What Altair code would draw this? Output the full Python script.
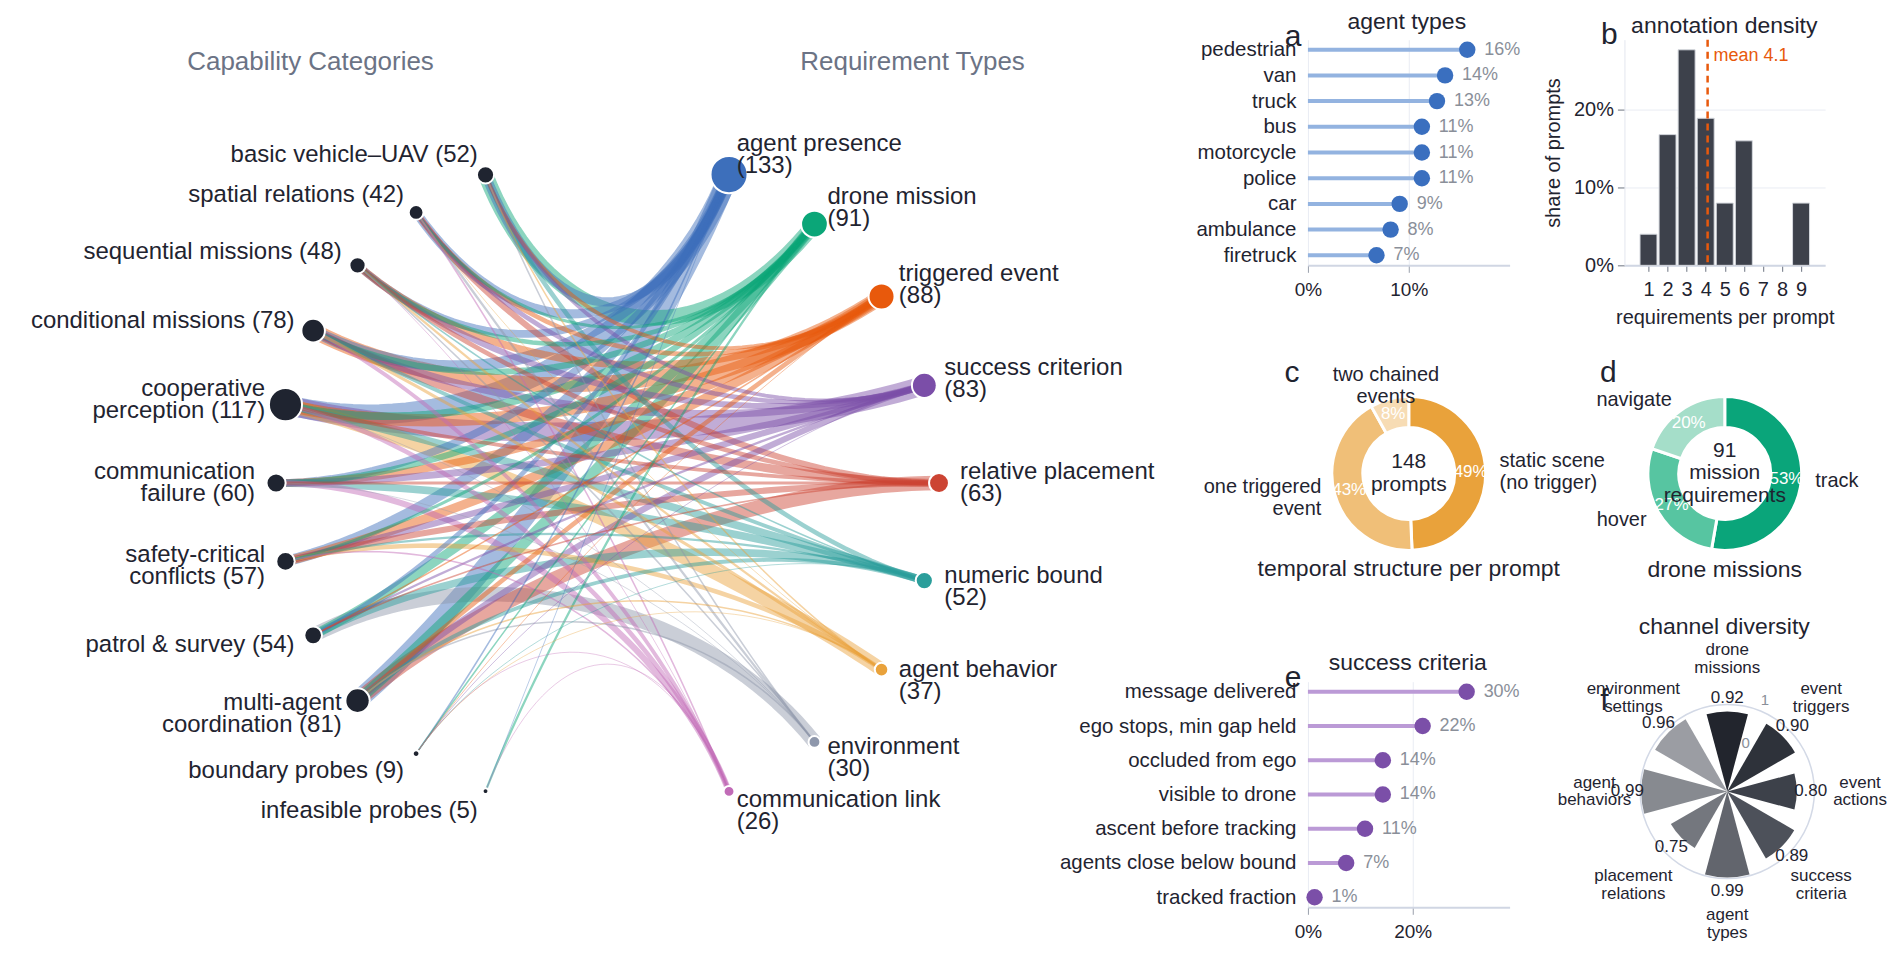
import math
import numpy as np
import pandas as pd
import altair as alt

FONT = "Liberation Sans"
DARK = "#1f2430"
MUTED = "#8a8f99"
HEADER = "#6b7385"
ORANGE = "#e8590c"

# ---------------- data ----------------
CAPABILITIES = ["basic vehicle–UAV", "spatial relations", "sequential missions", "conditional missions",
                "cooperative\nperception", "communication\nfailure", "safety-critical\nconflicts",
                "patrol & survey", "multi-agent\ncoordination", "boundary probes", "infeasible probes"]
CAP_COUNTS = [52, 42, 48, 78, 117, 60, 57, 54, 81, 9, 5]

REQUIREMENTS = ["agent presence", "drone mission", "triggered event", "success criterion",
                "relative placement", "numeric bound", "agent behavior", "environment", "communication link"]
REQ_COUNTS = [133, 91, 88, 83, 63, 52, 37, 30, 26]
REQ_COLORS = ["#3d6fbb", "#0ba678", "#e8590c", "#7b4ea8", "#cc4433", "#2b9e9b", "#e9a23b", "#8e97ab", "#c16bb7"]

# links: rows = capabilities, columns = requirement types
LINKS = [
    [12, 20, 5, 5, 0, 6, 2, 2, 0],
    [12, 4, 6, 6, 8, 0, 1, 3, 2],
    [10, 6, 10, 8, 6, 2, 3, 2, 1],
    [15, 8, 20, 10, 11, 5, 4, 0, 5],
    [26, 10, 16, 25, 5, 10, 18, 1, 6],
    [10, 8, 10, 9, 4, 10, 0, 1, 8],
    [14, 4, 12, 8, 8, 3, 6, 0, 2],
    [6, 12, 2, 3, 2, 10, 0, 19, 0],
    [25, 14, 6, 8, 19, 5, 2, 2, 0],
    [2, 2, 1, 1, 0, 1, 1, 0, 1],
    [1, 3, 0, 0, 0, 0, 0, 0, 1],
]

AGENT_TYPES = ["pedestrian", "van", "truck", "bus", "motorcycle", "police", "car", "ambulance", "firetruck"]
AGENT_SHARE = [0.158, 0.136, 0.128, 0.113, 0.113, 0.113, 0.091, 0.082, 0.068]

REQS_PER_PROMPT = [1, 2, 3, 4, 5, 6, 7, 8, 9]
PROMPT_SHARE = [0.04, 0.168, 0.277, 0.189, 0.08, 0.16, 0.0, 0.0, 0.08]
MEAN_REQS = 4.1

TEMPORAL = ["static scene\n(no trigger)", "one triggered\nevent", "two chained\nevents"]
TEMPORAL_N = [73, 63, 12]
TEMPORAL_COLORS = ["#e9a23b", "#f0bf78", "#f7dcb4"]

MISSIONS = ["track", "hover", "navigate"]
MISSIONS_N = [48, 25, 18]
MISSION_COLORS = ["#0aa57a", "#57c5a1", "#a5dec9"]

SUCCESS = ["message delivered", "ego stops, min gap held", "occluded from ego", "visible to drone",
           "ascent before tracking", "agents close below bound", "tracked fraction"]
SUCCESS_SHARE = [0.303, 0.219, 0.143, 0.143, 0.109, 0.073, 0.0127]

CHANNELS = ["drone\nmissions", "event\ntriggers", "event\nactions", "success\ncriteria", "agent\ntypes",
            "placement\nrelations", "agent\nbehaviors", "environment\nsettings"]
DIVERSITY = [0.92, 0.90, 0.80, 0.89, 0.99, 0.75, 0.99, 0.96]
CHANNEL_COLORS = ["#22252d", "#2e323a", "#3d414a", "#4d515a", "#62656d", "#74777e", "#878a90", "#9b9da3"]

# ---------------- layout constants ----------------
COLW1, COLW2 = 202, 201
ROW_H = 226
MID_H = 317
W0 = 1182
PX0, PY0 = 13.0, 39.0          # page position of the first row's top-left corner
LH = 22                        # line height of the node labels

# ---------------- bipartite layout ----------------
CX, CY, RAD = 608.5, 483.0, 332.0
HUB = np.array([CX, CY])
PULL = 0.55
GAP = 21.0
L_SPAN, R_SPAN = 68.4, 68.5


def lift(text):
    # vertical correction so that a multi-line label is centred on its anchor
    return (text.count("\n")) * LH / 2.0


left_rows = []
lstep = 2 * L_SPAN / (len(CAPABILITIES) - 1)
for i, (nm, c) in enumerate(zip(CAPABILITIES, CAP_COUNTS)):
    a = math.radians(-L_SPAN + lstep * i)
    x, y = CX - RAD * math.cos(a), CY + RAD * math.sin(a)
    lab = f"{nm} ({c})"
    left_rows.append(dict(name=nm, count=c, x=x, y=y,
                          lx=x - GAP * math.cos(a), ly=y + GAP * math.sin(a) - lift(lab),
                          label=lab))
right_rows = []
rstep = 2 * R_SPAN / (len(REQUIREMENTS) - 1)
for j, (nm, c) in enumerate(zip(REQUIREMENTS, REQ_COUNTS)):
    a = math.radians(-R_SPAN + rstep * j)
    x, y = CX + RAD * math.cos(a), CY + RAD * math.sin(a)
    lab = f"{nm}\n({c})"
    right_rows.append(dict(name=nm, count=c, x=x, y=y,
                           lx=x + GAP * math.cos(a), ly=y + GAP * math.sin(a) - lift(lab),
                           label=lab))
left_df = pd.DataFrame(left_rows)
right_df = pd.DataFrame(right_rows)

T = np.linspace(0, 1, 41)
links = sorted([(w, i, j) for i, row in enumerate(LINKS) for j, w in enumerate(row) if w > 0],
               key=lambda r: -r[0])
edge_rows = []
for rank, (w, i, j) in enumerate(links):
    p0 = np.array([left_rows[i]["x"], left_rows[i]["y"]])
    p3 = np.array([right_rows[j]["x"], right_rows[j]["y"]])
    p1 = p0 + PULL * (HUB - p0)
    p2 = p3 + PULL * (HUB - p3)
    for t in T:
        b = (1 - t) ** 3 * p0 + 3 * (1 - t) ** 2 * t * p1 + 3 * (1 - t) * t ** 2 * p2 + t ** 3 * p3
        edge_rows.append(dict(eid=f"e{rank:03d}", t=float(t), x=float(b[0]), y=float(b[1]),
                              target=REQUIREMENTS[j], w=w))
edge_df = pd.DataFrame(edge_rows)

xs = alt.Scale(domain=[PX0, PX0 + W0], range=[0, W0], nice=False, zero=False)
ys = alt.Scale(domain=[PY0, PY0 + ROW_H], range=[0, ROW_H], nice=False, zero=False)
req_color = alt.Scale(domain=REQUIREMENTS, range=REQ_COLORS)

edges = alt.Chart(edge_df).mark_line(opacity=0.47, strokeCap="butt").encode(
    x=alt.X("x:Q", scale=xs, axis=None),
    y=alt.Y("y:Q", scale=ys, axis=None),
    detail="eid:N",
    order="t:Q",
    color=alt.Color("target:N", scale=req_color, legend=None),
    strokeWidth=alt.StrokeWidth("w:Q", scale=alt.Scale(domain=[0, 26], range=[0, 20]), legend=None),
)
node_size = "pow(4.5 + 0.245 * datum.count, 2)"
lnodes = alt.Chart(left_df).transform_calculate(sz=node_size).mark_circle(
    fill=DARK, opacity=1, stroke="white", strokeWidth=2).encode(
    x=alt.X("x:Q", scale=xs, axis=None), y=alt.Y("y:Q", scale=ys, axis=None),
    size=alt.Size("sz:Q", scale=None))
rnodes = alt.Chart(right_df).transform_calculate(sz=node_size).mark_circle(
    opacity=1, stroke="white", strokeWidth=2).encode(
    x=alt.X("x:Q", scale=xs, axis=None), y=alt.Y("y:Q", scale=ys, axis=None),
    size=alt.Size("sz:Q", scale=None),
    color=alt.Color("name:N", scale=req_color, legend=None))
llab = alt.Chart(left_df).mark_text(align="right", baseline="middle", fontSize=24, lineBreak="\n",
                                    lineHeight=LH, color=DARK).encode(
    x=alt.X("lx:Q", scale=xs, axis=None), y=alt.Y("ly:Q", scale=ys, axis=None), text="label:N")
rlab = alt.Chart(right_df).mark_text(align="left", baseline="middle", fontSize=24, lineBreak="\n",
                                     lineHeight=LH, color=DARK).encode(
    x=alt.X("lx:Q", scale=xs, axis=None), y=alt.Y("ly:Q", scale=ys, axis=None), text="label:N")
head_l = alt.Chart(pd.DataFrame({"h": ["Capability Categories"]})).mark_text(
    fontSize=26, color=HEADER, baseline="middle").encode(text="h:N", x=alt.value(311 - PX0), y=alt.value(61 - PY0))
head_r = alt.Chart(pd.DataFrame({"h": ["Requirement Types"]})).mark_text(
    fontSize=26, color=HEADER, baseline="middle").encode(text="h:N", x=alt.value(914 - PX0), y=alt.value(61 - PY0))
# invisible anchor that fixes the top edge of the whole figure
anchor = alt.Chart(pd.DataFrame({"z": [0]})).mark_rect(opacity=0).encode(
    x=alt.value(0), x2=alt.value(1), y=alt.value(-31), y2=alt.value(-30))

bip = alt.layer(edges, lnodes, rnodes, llab, rlab, head_l, head_r, anchor).properties(width=W0, height=ROW_H)


# ---------------- helpers ----------------
def txt(text, x, y, size, color=DARK, align="center", baseline="alphabetic"):
    return alt.Chart(pd.DataFrame({"t": [text]})).mark_text(
        fontSize=size, color=color, align=align, baseline=baseline, lineBreak="\n").encode(
        text="t:N", x=alt.value(x), y=alt.value(y))


def lollipop(cats, vals, dmax, ticks, line_col, dot_col, pad):
    df = pd.DataFrame({"cat": cats, "v": vals})
    y = alt.Y("cat:N", sort=cats, scale=alt.Scale(type="point", padding=pad),
              axis=alt.Axis(title=None, labelFontSize=20.5, labelColor=DARK, ticks=False, domain=False,
                            labelPadding=12, labelLimit=400))
    x = alt.X("v:Q", scale=alt.Scale(domain=[0, dmax], nice=False, zero=True),
              axis=alt.Axis(title=None, format="%", values=ticks, labelFontSize=19, labelColor=DARK,
                            tickColor="#9aa0ac", tickSize=7, labelPadding=8, domainColor="#d0d6e3",
                            domainWidth=2, gridColor="#e9ecf3", labelFlush=False))
    base = alt.Chart(df).transform_calculate(zero="0")
    stem = base.mark_rule(color=line_col, strokeWidth=4).encode(y=y, x=x, x2="zero:Q")
    dot = base.mark_circle(color=dot_col, size=270, opacity=1).encode(y=y, x=x)
    lab = base.mark_text(align="left", dx=17, fontSize=18, color=MUTED, baseline="middle").encode(
        y=y, x=x, text=alt.Text("v:Q", format=".0%"))
    return [stem, dot, lab]


def donut(cats, counts, colors, center, title, letter, w, h, title_y):
    df = pd.DataFrame({"cat": cats, "n": counts})
    base = (alt.Chart(df)
            .transform_window(idx="row_number()")
            .transform_joinaggregate(total="sum(n)")
            .transform_window(cum="sum(n)", sort=[alt.SortField("idx")], frame=[None, 0])
            .transform_calculate(pct="datum.n / datum.total",
                                 mid="(datum.cum - datum.n / 2) / datum.total")
            .transform_calculate(side="datum.mid > 0.06 && datum.mid < 0.45 ? 'L' : "
                                      "(datum.mid > 0.55 && datum.mid < 0.94 ? 'R' : 'C')"))
    theta = alt.Theta("n:Q", stack=True)
    order = alt.Order("idx:Q")
    arc = base.mark_arc(innerRadius=46, outerRadius=77, stroke="white", strokeWidth=3).encode(
        theta=theta, order=order,
        color=alt.Color("cat:N", scale=alt.Scale(domain=cats, range=colors), legend=None))
    pct = base.mark_text(radius=62, fontSize=17, color="white").encode(
        theta=theta, order=order, detail="cat:N", text=alt.Text("pct:Q", format=".0%"))
    layers = [arc, pct]
    olh = 22
    lift_lab = max(c.count("\n") for c in cats) * olh / 2.0
    for side, al in [("L", "left"), ("R", "right"), ("C", "center")]:
        layers.append(base.mark_text(radius=91, fontSize=20, lineBreak="\n", lineHeight=olh, align=al,
                                     baseline="middle", color=DARK, dy=-lift_lab).encode(
            theta=theta, order=order, detail="cat:N",
            text=alt.condition(f"datum.side == '{side}'", "cat:N", alt.value(""))))
    clh = 23
    ctr = alt.Chart(pd.DataFrame({"t": [center]})).mark_text(
        fontSize=21, lineBreak="\n", lineHeight=clh, color=DARK, baseline="middle").encode(
        text="t:N", x=alt.value(w / 2), y=alt.value(h / 2 - center.count("\n") * clh / 2.0))
    layers += [ctr, txt(title, w / 2, title_y, 23), txt(letter, -16, 67, 30)]
    return alt.layer(*layers).properties(width=w, height=h)


# ---------------- panel a ----------------
panel_a = alt.layer(*lollipop(AGENT_TYPES, AGENT_SHARE, 0.2, [0, 0.1], "#93b3e0", "#3a6fbf", 0.39),
                    txt("agent types", 99, -18, 23, baseline="middle"), txt("a", -15, 6, 30)
                    ).properties(width=COLW1, height=ROW_H)

# ---------------- panel b ----------------
b_df = pd.DataFrame({"k": REQS_PER_PROMPT, "share": PROMPT_SHARE})
bxs = alt.Scale(domain=[0, 10], nice=False, zero=False)
bx_axis = alt.Axis(values=REQS_PER_PROMPT, title="requirements per prompt", labelFontSize=20,
                   labelColor=DARK, titleFontSize=20, titleFontWeight="normal", titleColor=DARK,
                   titlePadding=8, tickColor="#6b7280", tickSize=6, labelPadding=8,
                   domainColor="#d0d6e3", domainWidth=2, grid=False, labelFlush=False,
                   labelOverlap=False, labelSeparation=0, format="d")
by = alt.Y("share:Q", scale=alt.Scale(domain=[0, 0.29], nice=False),
           axis=alt.Axis(values=[0, 0.1, 0.2], format="%", title="share of prompts", labelFontSize=20,
                         labelColor=DARK, titleFontSize=20, titleFontWeight="normal", titleColor=DARK,
                         titlePadding=10, tickColor="#6b7280", tickSize=7, labelPadding=4,
                         domainColor="#e3e6ee", gridColor="#e9ecf3"))
bars = alt.Chart(b_df).transform_filter("datum.share > 0").mark_bar(
    width=17, color="#3d414b", stroke="#d5d8de", strokeWidth=1).encode(
    x=alt.X("k:Q", scale=bxs, axis=bx_axis), y=by)
mean_df = pd.DataFrame({"m": [MEAN_REQS]})
mean_rule = alt.Chart(mean_df).mark_rule(color=ORANGE, strokeDash=[7, 5], strokeWidth=2.5).encode(
    x=alt.X("m:Q", scale=bxs, axis=bx_axis))
mean_txt = alt.Chart(mean_df).transform_calculate(lbl="'mean ' + format(datum.m, '.1f')").mark_text(
    align="left", dx=6, color=ORANGE, fontSize=18, baseline="middle").encode(
    x=alt.X("m:Q", scale=bxs, axis=bx_axis), y=alt.value(16), text="lbl:N")
panel_b = alt.layer(bars, mean_rule, mean_txt,
                    txt("annotation density", 100, -14, 23, baseline="middle"), txt("b", -15, 4, 30)
                    ).properties(width=COLW2, height=ROW_H)

# ---------------- panels c, d ----------------
panel_c = donut(TEMPORAL, TEMPORAL_N, TEMPORAL_COLORS, f"{sum(TEMPORAL_N)}\nprompts",
                "temporal structure per prompt", "c", COLW1, MID_H, 261)
panel_d = donut(MISSIONS, MISSIONS_N, MISSION_COLORS, f"{sum(MISSIONS_N)}\nmission\nrequirements",
                "drone missions", "d", COLW2, MID_H, 262)

# ---------------- panel e ----------------
panel_e = alt.layer(*lollipop(SUCCESS, SUCCESS_SHARE, 0.385, [0, 0.2], "#bb9ad6", "#7b4fa8", 0.295),
                    txt("success criteria", 100, -12, 23), txt("e", -15, 5, 30)
                    ).properties(width=COLW1, height=ROW_H)

# ---------------- panel f ----------------
FCX, FCY = 103, 110
f_df = pd.DataFrame({"cat": CHANNELS, "v": DIVERSITY})
rscale = alt.Scale(type="linear", domain=[0, 1], range=[0, 87], zero=True)
f_base = (alt.Chart(f_df)
          .transform_window(rn="row_number()")
          .transform_calculate(mid="(datum.rn - 1) * PI / 4",
                               t0="(datum.rn - 1) * PI / 4 - PI / 12",
                               t1="(datum.rn - 1) * PI / 4 + PI / 12",
                               vl="datum.v + 0.16"))
ring = alt.Chart(pd.DataFrame({"r": [1]})).mark_arc(
    radius=88, radius2=86.5, theta=0, theta2=2 * math.pi, color="#d3d9e6").encode(
    x=alt.value(FCX), y=alt.value(FCY))
f_bars = f_base.mark_arc().encode(
    theta=alt.Theta("t0:Q", scale=None, stack=False), theta2="t1:Q",
    radius=alt.Radius("v:Q", scale=rscale),
    color=alt.Color("cat:N", scale=alt.Scale(domain=CHANNELS, range=CHANNEL_COLORS), legend=None),
    x=alt.value(FCX), y=alt.value(FCY))
f_vals = f_base.mark_text(fontSize=17, color=DARK, baseline="middle").encode(
    theta=alt.Theta("mid:Q", scale=None, stack=False), radius=alt.Radius("vl:Q", scale=rscale),
    text=alt.Text("v:Q", format=".2f"), x=alt.value(FCX), y=alt.value(FCY))
f_cats = f_base.mark_text(radius=133, fontSize=17, lineBreak="\n", lineHeight=18, color=DARK,
                          baseline="middle", dy=-9).encode(
    theta=alt.Theta("mid:Q", scale=None, stack=False), text="cat:N", x=alt.value(FCX), y=alt.value(FCY))
f_zero = alt.Chart(pd.DataFrame({"t": ["0"]})).mark_text(radius=52, theta=0.36, fontSize=15, color=MUTED,
                                                          baseline="middle").encode(
    text="t:N", x=alt.value(FCX), y=alt.value(FCY))
f_one = alt.Chart(pd.DataFrame({"t": ["1"]})).mark_text(radius=99, theta=0.39, fontSize=15, color=MUTED,
                                                         baseline="middle").encode(
    text="t:N", x=alt.value(FCX), y=alt.value(FCY))
panel_f = alt.layer(ring, f_bars, f_vals, f_cats, f_zero, f_one,
                    txt("channel diversity", 100, -48, 23), txt("f", -20, 28, 30)
                    ).properties(width=COLW2, height=ROW_H)


def blank():
    return alt.Chart(pd.DataFrame({"t": [""]})).mark_text().encode(text="t:N").properties(width=10, height=10)


# ---------------- assemble ----------------
chart = (alt.concat(bip, panel_a, panel_b,
                    blank(), panel_c, panel_d,
                    blank(), panel_e, panel_f,
                    columns=3, spacing={"row": 50, "column": 115}, bounds="flush",
                    padding={"left": 5, "top": 0, "right": 5, "bottom": 0})
         .resolve_scale(color="independent", theta="independent", radius="independent",
                        size="independent", strokeWidth="independent")
         .configure(font=FONT)
         .configure_view(strokeWidth=0))

chart.save("out.html", embed_options={"renderer": "svg", "actions": False})
